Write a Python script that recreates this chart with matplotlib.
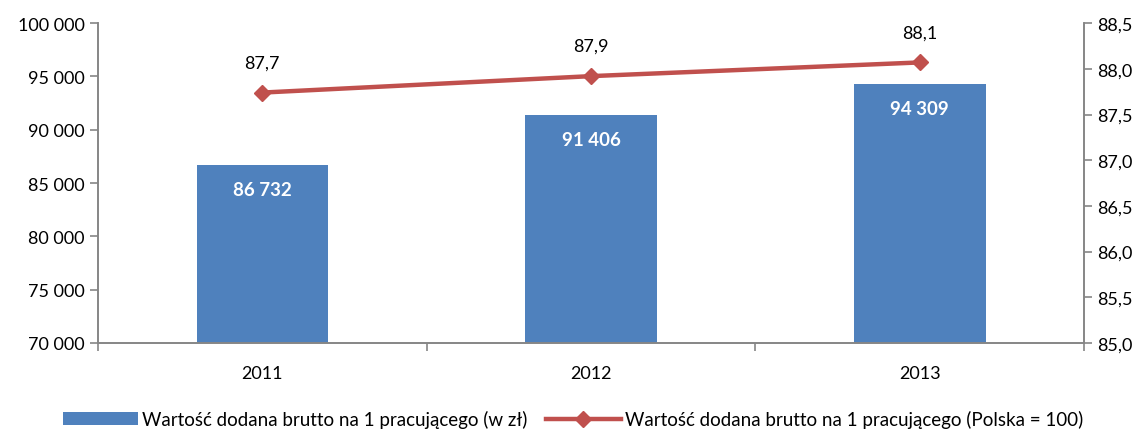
import matplotlib.pyplot as plt
from matplotlib.ticker import FuncFormatter

years = ["2011", "2012", "2013"]
value_pln = [86732, 91406, 94309]
index_pl = [87.74, 87.92, 88.07]
index_labels = ["87,7", "87,9", "88,1"]

plt.rcParams['font.family'] = ['Lato', 'DejaVu Sans']
plt.rcParams['font.size'] = 13

bar_color = "#4f81bd"
line_color = "#c0504d"
axis_gray = "#868686"

fig = plt.figure(figsize=(11.46, 4.31), dpi=100)
ax = fig.add_axes([0.0855, 0.202, 0.8605, 0.742])
ax2 = ax.twinx()

x = list(range(len(years)))
bars = ax.bar(x, value_pln, width=0.4, color=bar_color, zorder=2,
              label="Wartość dodana brutto na 1 pracującego (w zł)")
for xi, v in zip(x, value_pln):
    txt = "{:,}".format(v).replace(",", " ")
    ax.text(xi, v - 2350, txt, ha="center", va="center", color="white",
            fontsize=13.5, fontweight="bold", zorder=3)

ax.set_ylim(70000, 100000)
ax.set_yticks(range(70000, 100001, 5000))
ax.yaxis.set_major_formatter(FuncFormatter(lambda v, p: "{:,}".format(int(v)).replace(",", " ")))
ax.set_xlim(-0.5, 2.5)
ax.set_xticks(x)
ax.set_xticklabels(years)
ax.set_xticks([-0.5, 0.5, 1.5, 2.5], minor=True)
ax.tick_params(axis="x", which="major", length=0, pad=16)
ax.tick_params(axis="x", which="minor", length=6, color=axis_gray, width=1.2)
ax.tick_params(axis="y", length=6, color=axis_gray, width=1.2)

line, = ax2.plot(x, index_pl, color=line_color, lw=3.2, marker="D", markersize=8,
                 label="Wartość dodana brutto na 1 pracującego (Polska = 100)", zorder=4)
for xi, v, lab in zip(x, index_pl, index_labels):
    ax2.text(xi, v + 0.33, lab, ha="center", va="center", fontsize=13)
ax2.set_ylim(85.0, 88.5)
ax2.set_yticks([85.0, 85.5, 86.0, 86.5, 87.0, 87.5, 88.0, 88.5])
ax2.yaxis.set_major_formatter(FuncFormatter(lambda v, p: "{:.1f}".format(v).replace(".", ",")))
ax2.tick_params(axis="y", length=6, color=axis_gray, width=1.2)

for a in (ax, ax2):
    a.spines["top"].set_visible(False)
    for s in ("left", "right", "bottom"):
        a.spines[s].set_color(axis_gray)
        a.spines[s].set_linewidth(1.2)

fig.legend(handles=[bars, line], loc="lower center", ncol=2, frameon=False,
           bbox_to_anchor=(0.5, -0.035), handlelength=4.0, handletextpad=0.2,
           columnspacing=1.0, fontsize=13.5)

fig.savefig("out.png", dpi=100)
